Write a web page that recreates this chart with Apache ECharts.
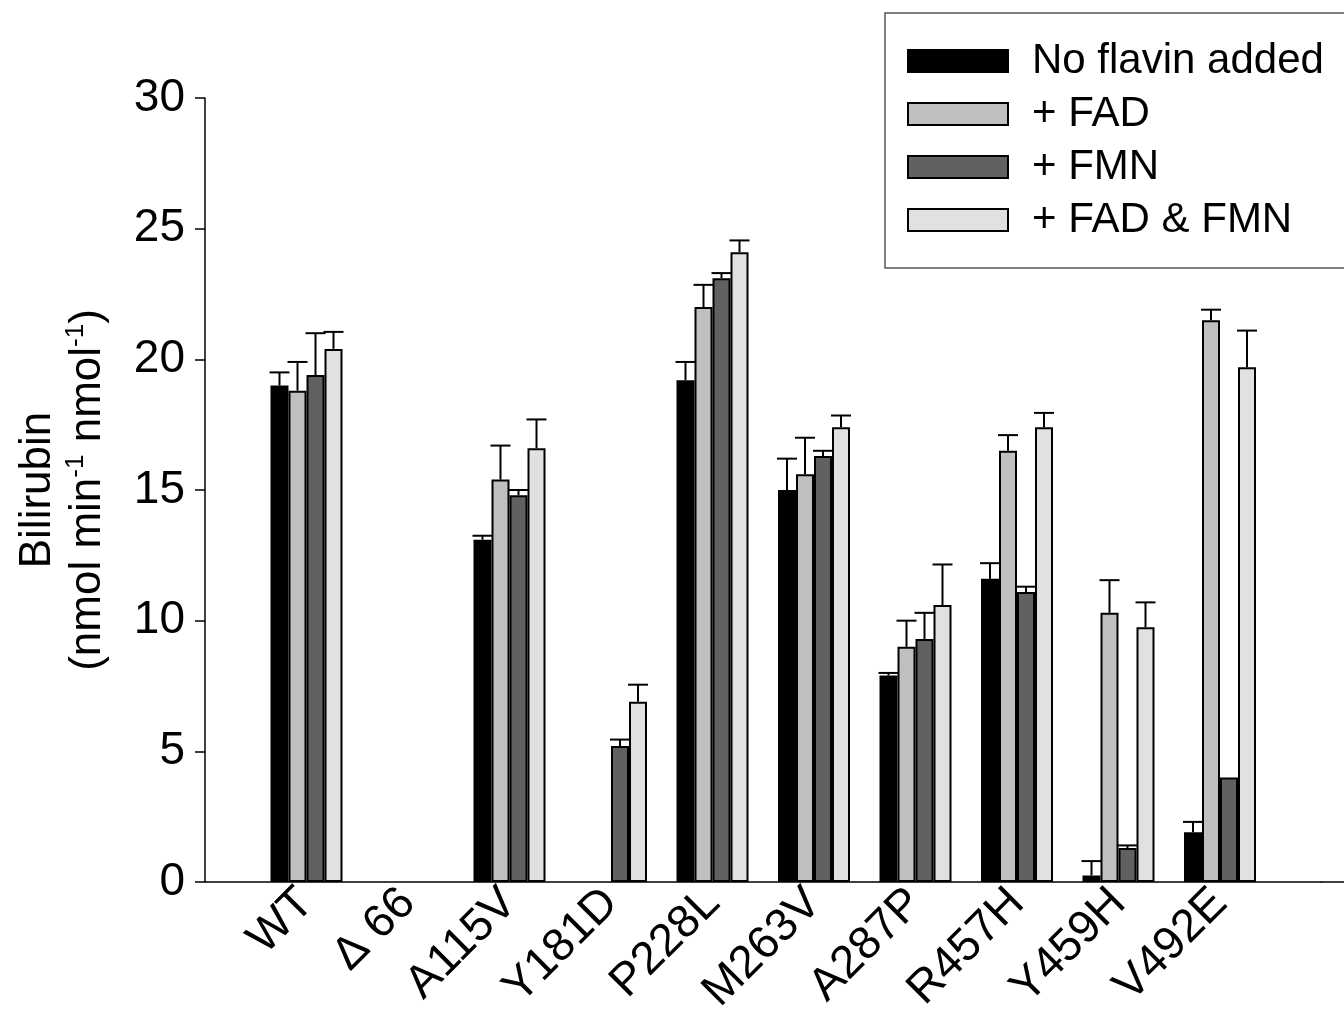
<!DOCTYPE html>
<html>
<head>
<meta charset="utf-8">
<script src="https://cdn.jsdelivr.net/npm/echarts@6/dist/echarts.min.js"></script>
<style>
html,body{margin:0;padding:0;background:#fff;}
#chart{width:1344px;height:1011px;}
</style>
</head>
<body>
<div id="chart"></div>
<script>
// ---- data ----
const categories = ['WT', 'Δ 66', 'A115V', 'Y181D', 'P228L', 'M263V', 'A287P', 'R457H', 'Y459H', 'V492E'];
const seriesNames = ['No flavin added', '+ FAD', '+ FMN', '+ FAD & FMN'];
const noFlavin = [19.0, null, 13.1, null, 19.2, 15.0, 7.9, 11.6, 0.25, 1.9];
const fad      = [18.8, null, 15.4, null, 22.0, 15.6, 9.0, 16.5, 10.3, 21.5];
const fmn      = [19.4, null, 14.8, 5.2, 23.1, 16.3, 9.3, 11.1, 1.3, 4.0];
const fadFmn   = [20.4, null, 16.6, 6.9, 24.1, 17.4, 10.6, 17.4, 9.75, 19.7];
const noFlavinErr = [0.5, null, 0.15, null, 0.7, 1.2, 0.1, 0.6, 0.55, 0.4];
const fadErr      = [1.1, null, 1.3, null, 0.85, 1.4, 1.0, 0.6, 1.25, 0.4];
const fmnErr      = [1.6, null, 0.2, 0.25, 0.2, 0.2, 1.0, 0.2, 0.1, 0];
const fadFmnErr   = [0.65, null, 1.1, 0.65, 0.45, 0.45, 1.55, 0.55, 0.95, 1.4];
const yTicks = [0, 5, 10, 15, 20, 25, 30];

// ---- styles ----
const FONT = 'Liberation Sans, Arial, sans-serif';
const colors = ['#000000', '#bfbfbf', '#616161', '#e1e1e1'];
const BAR_W = 18;
const CAT_W = 101.5;

const values = [noFlavin, fad, fmn, fadFmn];
const errs = [noFlavinErr, fadErr, fmnErr, fadFmnErr];

// axis categories padded: one empty slot before and one after
const axisCats = [''].concat(categories, ['']);

const series = [];
values.forEach((vals, i) => {
  series.push({
    name: seriesNames[i],
    type: 'bar',
    xAxisIndex: 0,
    yAxisIndex: 0,
    barWidth: BAR_W,
    barGap: '0%',
    data: [null].concat(vals, [null]),
    itemStyle: { color: colors[i], borderColor: '#000', borderWidth: 2 },
    emphasis: { disabled: true },
    z: 2
  });
});
values.forEach((vals, i) => {
  const offset = (i - 1.5) * BAR_W;
  const data = [];
  vals.forEach((v, k) => {
    const e = errs[i][k];
    if (v != null && e != null && e > 0) data.push([k + 1, v, v + e]);
  });
  series.push({
    name: 'err' + i,
    type: 'custom',
    xAxisIndex: 0,
    yAxisIndex: 0,
    z: 3,
    silent: true,
    data: data,
    renderItem: function (params, api) {
      const c = api.value(0);
      const base = api.coord([c, api.value(1)]);
      const top = api.coord([c, api.value(2)]);
      const x = base[0] + offset;
      const style = { stroke: '#000', lineWidth: 2 };
      return {
        type: 'group',
        children: [
          { type: 'line', shape: { x1: x, y1: base[1], x2: x, y2: top[1] }, style: style },
          { type: 'line', shape: { x1: x - 10, y1: top[1], x2: x + 10, y2: top[1] }, style: style }
        ]
      };
    }
  });
});

const chart = echarts.init(document.getElementById('chart'), null, { renderer: 'canvas' });
chart.setOption({
  animation: false,
  backgroundColor: '#fff',
  textStyle: { fontFamily: FONT },
  grid: [
    { left: 205, top: 98, width: CAT_W * (axisCats.length - 1), height: 784, containLabel: false, outerBoundsMode: 'none' },
    { left: 205 + CAT_W * (axisCats.length - 1), top: 98, right: 0, height: 784, containLabel: false, outerBoundsMode: 'none' }
  ],
  legend: {
    data: seriesNames,
    orient: 'vertical',
    align: 'left',
    left: 885,
    top: 13,
    padding: [27, 60, 27, 22],
    itemWidth: 100,
    itemHeight: 22,
    itemGap: 11,
    icon: 'rect',
    borderColor: '#555',
    borderWidth: 1.5,
    selectedMode: false,
    textStyle: { fontFamily: FONT, fontSize: 42, color: '#000', lineHeight: 42, padding: [0, 0, 0, 19] }
  },
  xAxis: [
    {
      type: 'category',
      gridIndex: 0,
      data: axisCats,
      boundaryGap: false,
      axisLine: { lineStyle: { color: '#000', width: 1.5 } },
      axisTick: { show: false },
      splitLine: { show: false },
      axisLabel: {
        interval: 0,
        rotate: 45,
        margin: 14,
        fontFamily: FONT,
        fontSize: 46,
        color: '#000'
      }
    },
    {
      type: 'value',
      gridIndex: 1,
      min: 0,
      max: 1,
      axisLine: { show: true, lineStyle: { color: '#000', width: 1.5 } },
      axisTick: { show: false },
      axisLabel: { show: false },
      splitLine: { show: false }
    }
  ],
  yAxis: [
    {
      type: 'value',
      gridIndex: 0,
      min: yTicks[0],
      max: yTicks[yTicks.length - 1],
      interval: 5,
      name: '{a|Bilirubin}\n{a|(nmol min}{s|-1}{a| nmol}{s|-1}{a|)}',
      nameLocation: 'middle',
      nameRotate: 90,
      nameGap: 92,
      nameTextStyle: {
        color: '#000',
        fontFamily: FONT,
        rich: {
          a: { fontSize: 44, fontFamily: FONT, color: '#000', lineHeight: 50 },
          s: { fontSize: 26, fontFamily: FONT, color: '#000', verticalAlign: 'top', lineHeight: 50 }
        }
      },
      axisLine: { show: true, lineStyle: { color: '#000', width: 1.5 } },
      axisTick: { show: true, inside: false, length: 10, lineStyle: { color: '#000', width: 1.5 } },
      splitLine: { show: false },
      axisLabel: { margin: 20, fontFamily: FONT, fontSize: 46, color: '#000' }
    },
    {
      type: 'value',
      gridIndex: 1,
      min: 0,
      max: 1,
      show: false
    }
  ],
  series: series
});
</script>
</body>
</html>
